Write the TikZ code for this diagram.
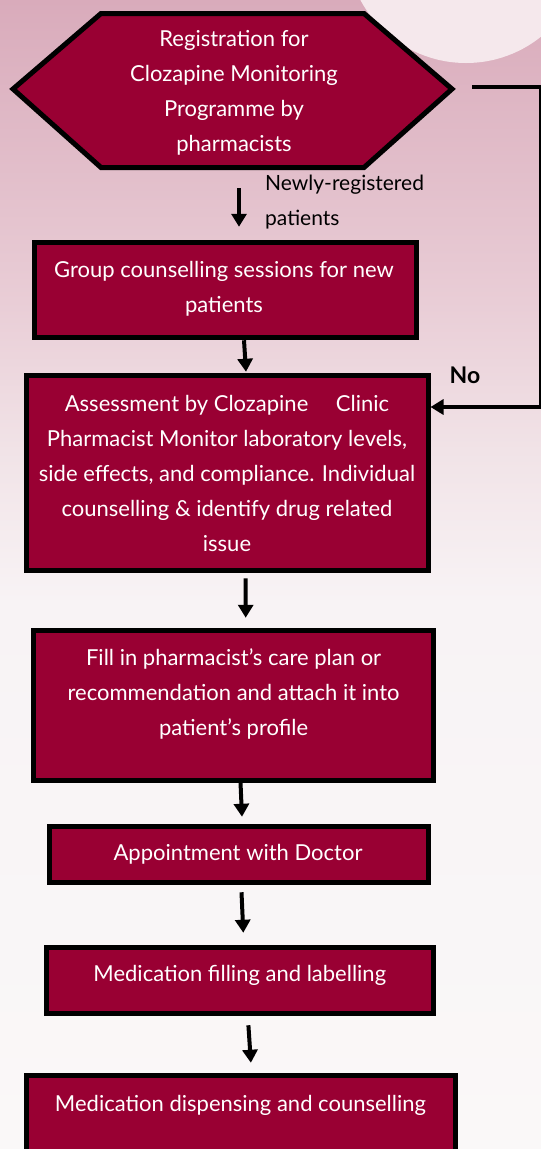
\documentclass[tikz,border=0pt]{standalone}
\usepackage{fontspec}
\setmainfont{Lato}
\usetikzlibrary{arrows.meta,calc}
\definecolor{wine}{HTML}{990033}
\definecolor{bgA}{HTML}{D9ABBB}
\definecolor{bgB}{HTML}{E9CDD6}
\definecolor{bgC}{HTML}{F1E3E7}
\definecolor{bgD}{HTML}{F8F3F5}
\definecolor{bgE}{HTML}{FAF8F8}
\definecolor{circ}{HTML}{F5E8EC}
\pgfdeclareverticalshading{bgshade}{100bp}{color(0bp)=(bgE); color(25bp)=(bgE); color(48.9bp)=(bgD); color(55.4bp)=(bgC); color(61.9bp)=(bgB); color(75bp)=(bgA); color(100bp)=(bgA)}
\tikzset{
  stepbox/.style={draw=black, fill=wine, line width=5pt, inner sep=0pt},
  boxtext/.style={text=white, align=center, font=\fontsize{22}{35}\selectfont, inner sep=0pt},
  plaintext/.style={text=black, align=left, font=\fontsize{21}{35}\selectfont, inner sep=0pt},
  arr/.style={line width=4pt, -{Triangle[width=15pt,length=13pt]}},
}
\begin{document}
\begin{tikzpicture}[x=1pt,y=-1pt]
\useasboundingbox (0,0) rectangle (541,1149);
\clip (0,0) rectangle (541,1149);
\shade[shading=bgshade] (0,0) rectangle (541,1149);
\fill[circ] (466,-57) circle (120);

% hexagon
\draw[stepbox] (13,89) -- (101,13.5) -- (364,13.5) -- (452,89) -- (364,167.5) -- (101,167.5) -- cycle;
\coordinate (hexR) at (457,89);
\coordinate (hexS) at (232.5,170);
\node[boxtext] (t1) at (234,92.5) {Registration for\\Clozapine Monitoring\\Programme by\\pharmacists};

% boxes
\node[stepbox, minimum width=382.6, minimum height=95] (b2) at (225.3,289.5) {};
\node[stepbox, minimum width=402, minimum height=195] (b3) at (227,472.5) {};
\node[stepbox, minimum width=399.8, minimum height=150] (b4) at (233.6,705) {};
\node[stepbox, minimum width=378.7, minimum height=56] (b5) at (239,854) {};
\node[stepbox, minimum width=386.6, minimum height=66] (b6) at (240.2,980) {};
\node[stepbox, minimum width=429, minimum height=113] (b7) at (240.5,1131.5) {};

\node[boxtext] (t2) at (224,289) {Group counselling sessions for new\\patients};
\node[boxtext] (t3) at (227,473) {Assessment by Clozapine\hspace{1em} Clinic\\Pharmacist Monitor laboratory levels,\\side effects, and compliance. Individual\\counselling \& identify drug related\\issue};
\node[boxtext] (t4) at (233.6,693.5) {Fill in pharmacist’s care plan or\\recommendation and attach it into\\patient’s profile};
\node[boxtext] (t5) at (238,854) {Appointment with Doctor};
\node[boxtext] (t6) at (239.8,975) {Medication filling and labelling};
\node[boxtext] (t7) at (240.5,1105) {Medication dispensing and counselling};

% labels
\node[plaintext, anchor=west] (lab) at (265,202.5) {Newly-registered\\patients};
\node[text=black, font=\fontsize{23}{26}\selectfont\bfseries, inner sep=0pt] (no) at (465,375) {No};

% arrows
\draw[arr] ($(hexS)+(6.5,18)$) -- ($(b2.north)+(13.7,-12.75)$);
\draw[arr] ($(b2.south)+(18.7,0.75)$) -- ($(b3.north)+(19,-0.75)$);
\draw[arr] ($(b3.south)+(18.7,5.75)$) -- ($(b4.north)+(12.1,-9.75)$);
\draw[arr] ($(b4.south)+(6.9,0)$) -- ($(b5.north)+(3,-6.75)$);
\draw[arr] ($(b5.south)+(2.5,7.75)$) -- ($(b6.north)+(3.1,-11.75)$);
\draw[arr] ($(b6.south)+(8.2,9.75)$) -- ($(b7.north)+(10.4,-9.75)$);

% feedback loop
\coordinate (fbT) at (540.5,87);
\coordinate (fbB) at (540.5,407);
\draw[line width=4pt, -{Triangle[width=15pt,length=13pt]}] ($(hexR)+(15,-2)$) -- (fbT) -- (fbB) -- ($(b3.east)+(0,-65.5)$);
\end{tikzpicture}
\end{document}
